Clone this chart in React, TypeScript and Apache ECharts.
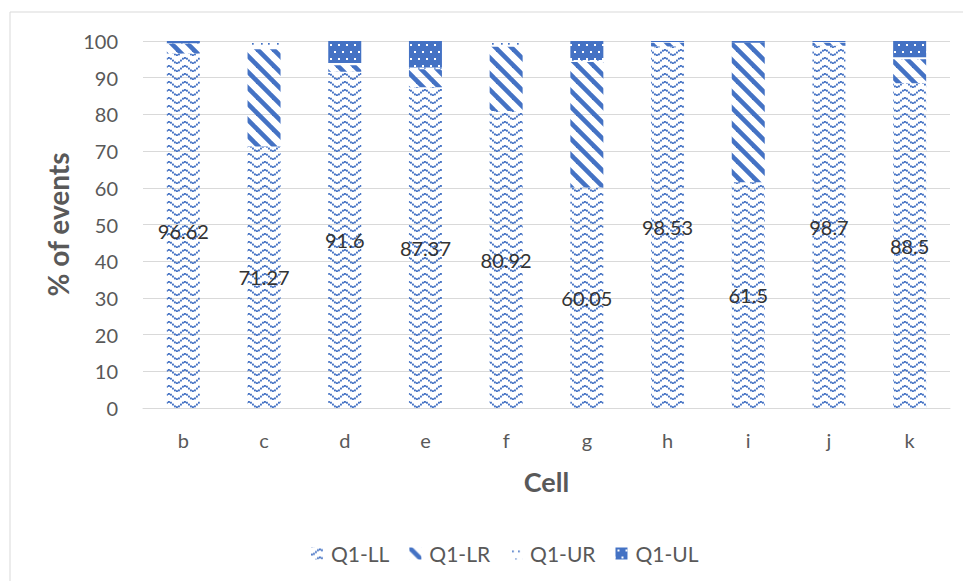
import React, { useEffect, useRef } from "react";
import * as echarts from "echarts";

const categories = ["b", "c", "d", "e", "f", "g", "h", "i", "j", "k"];
const q1LL = [96.62, 71.27, 91.6, 87.37, 80.92, 60.05, 98.53, 61.5, 98.7, 88.5];
const q1LR = [2.6, 26.5, 1.8, 4.9, 17.5, 34.25, 1.0, 38.0, 0.8, 6.5];
const q1UR = [0.2, 2.23, 0.6, 0.5, 1.58, 0.5, 0.17, 0, 0.2, 0.6];
const q1UL = [0.58, 0, 6.0, 7.23, 0, 5.2, 0.3, 0.5, 0.3, 4.4];
const seriesNames = ["Q1-LL", "Q1-LR", "Q1-UR", "Q1-UL"];
const yTicks = { min: 0, max: 100, interval: 10 };

const BLUE = "#4472C4";
const FONT = "Lato, 'Noto Sans', sans-serif";

function tile(w: number, h: number, draw: (ctx: CanvasRenderingContext2D) => void) {
  const c = document.createElement("canvas");
  c.width = w;
  c.height = h;
  const ctx = c.getContext("2d") as CanvasRenderingContext2D;
  draw(ctx);
  return { image: c, repeat: "repeat", imageWidth: w, imageHeight: h } as any;
}

function makePatterns() {
  const wave = tile(16, 8, (ctx) => {
    ctx.fillStyle = BLUE;
    for (let x = 0; x < 16; x += 2) {
      const y = 4.5 + 2.6 * Math.cos((2 * Math.PI * x) / 16);
      ctx.fillRect(x, y - 0.9, 1.9, 1.9);
    }
  });
  const diag = tile(16, 16, (ctx) => {
    ctx.strokeStyle = BLUE;
    ctx.lineWidth = 4.6;
    for (let k = -1; k <= 1; k++) {
      ctx.beginPath();
      ctx.moveTo(-4, -4 + k * 16);
      ctx.lineTo(20, 20 + k * 16);
      ctx.stroke();
    }
  });
  const dots = tile(16, 16, (ctx) => {
    ctx.fillStyle = BLUE;
    const pts = [
      [2, 3],
      [8, 3],
      [5, 11],
      [12, 11],
    ];
    pts.forEach(([x, y]) => ctx.fillRect(x, y, 1.7, 1.7));
  });
  const grid = tile(16, 14, (ctx) => {
    ctx.fillStyle = BLUE;
    ctx.fillRect(0, 0, 16, 14);
    ctx.fillStyle = "#ffffff";
    const pts = [
      [2, 2],
      [10, 2],
      [6, 9],
      [14, 9],
    ];
    pts.forEach(([x, y]) => ctx.fillRect(x, y, 2, 2));
  });
  return [wave, diag, dots, grid];
}

export default function App() {
  const ref = useRef<HTMLDivElement>(null);

  useEffect(() => {
    document.body.style.margin = "0";
    if (!ref.current) return;
    const chart = echarts.init(ref.current, null, { renderer: "svg" });
    const patterns = makePatterns();
    const values = [q1LL, q1LR, q1UR, q1UL];

    const series = seriesNames.map((name, i) => ({
      name,
      type: "bar",
      stack: "total",
      barWidth: 33,
      data: values[i],
      itemStyle: { color: patterns[i] },
      label:
        i === 0
          ? {
              show: true,
              position: "inside",
              color: "#333333",
              fontSize: 20,
              fontFamily: FONT,
              formatter: (p: any) => String(p.value),
            }
          : { show: false },
      emphasis: { disabled: true },
    }));

    chart.setOption({
      animation: false,
      backgroundColor: "#ffffff",
      graphic: [
        {
          type: "rect",
          shape: { x: 10, y: 12, width: 963, height: 590 },
          style: { fill: "none", stroke: "#d9d9d9", lineWidth: 1 },
          silent: true,
        },
      ],
      grid: { left: 143, right: 13, top: 41, bottom: 173 },
      legend: {
        data: seriesNames,
        left: 306,
        top: 538,
        icon: "rect",
        itemWidth: 12,
        itemHeight: 12,
        itemGap: 20,
        textStyle: { color: "#595959", fontSize: 21, fontFamily: FONT, padding: [0, 0, 0, 3] },
      },
      xAxis: {
        type: "category",
        data: categories,
        name: "Cell",
        nameLocation: "middle",
        nameGap: 60,
        nameTextStyle: { color: "#595959", fontSize: 27, fontWeight: "bold", fontFamily: FONT },
        axisLine: { lineStyle: { color: "#d9d9d9" } },
        axisTick: { show: false },
        axisLabel: { color: "#595959", fontSize: 20, margin: 22, fontFamily: FONT },
      },
      yAxis: {
        type: "value",
        min: yTicks.min,
        max: yTicks.max,
        interval: yTicks.interval,
        name: "% of events",
        nameLocation: "middle",
        nameGap: 68,
        nameTextStyle: { color: "#595959", fontSize: 28, fontWeight: "bold", fontFamily: FONT },
        axisLine: { show: false },
        axisTick: { show: false },
        axisLabel: { color: "#595959", fontSize: 20, margin: 25, fontFamily: FONT },
        splitLine: { lineStyle: { color: "#d9d9d9" } },
      },
      series,
    });

    return () => chart.dispose();
  }, []);

  return <div ref={ref} style={{ width: 963, height: 581 }} />;
}
